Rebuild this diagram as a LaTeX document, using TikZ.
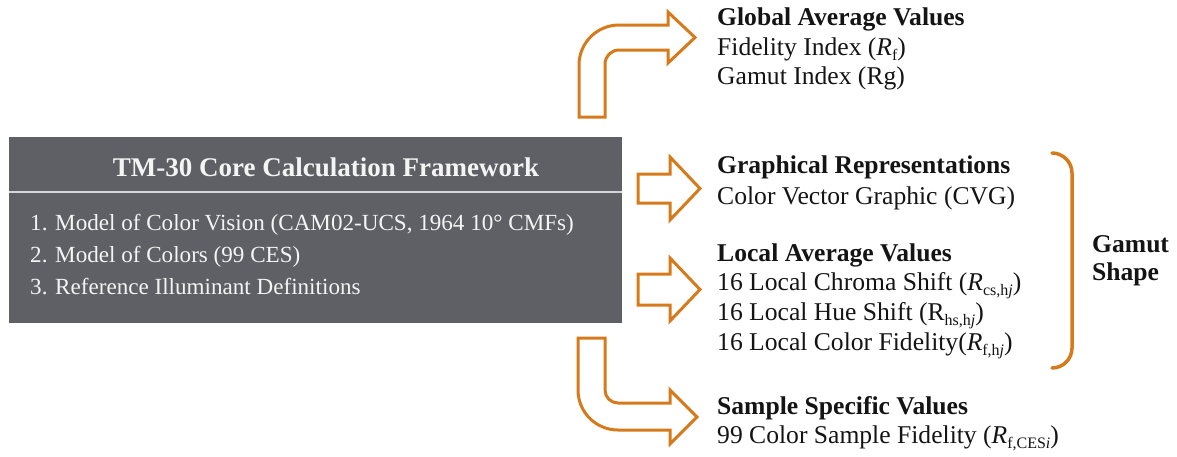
\documentclass[tikz,border=0pt]{standalone}
\usepackage{fontspec}
\setmainfont{Liberation Serif}
\definecolor{arrowor}{RGB}{214,122,28}
\definecolor{corebox}{RGB}{95,96,101}
\definecolor{divline}{RGB}{215,215,218}
\definecolor{boxtext}{RGB}{244,244,244}
\definecolor{ink}{RGB}{20,20,20}
% lowered index set in a smaller size
\newcommand\lsub[1]{\raisebox{-0.2em}{\fontsize{16}{16}\selectfont #1}}
\tikzset{
  blockarrow/.style={draw=arrowor, line width=3pt, fill=white, line join=miter},
  headtxt/.style={anchor=base west, inner sep=0pt, text=ink, font=\fontsize{25.6}{30}\selectfont\bfseries},
  bodytxt/.style={anchor=base west, inner sep=0pt, text=ink, font=\fontsize{25.6}{30}\selectfont},
  itemtxt/.style={anchor=base west, inner sep=0pt, text=boxtext, font=\fontsize{23.1}{28}\selectfont},
}
\begin{document}
\begin{tikzpicture}[x=1pt, y=-1pt]
\useasboundingbox (0,0) rectangle (1177,456);

% core calculation box
\fill[corebox] (9,137) rectangle (622,323);
\draw[divline, line width=2pt] (9,192) -- (622,192);
\node[anchor=base, inner sep=0pt, text=boxtext, font=\fontsize{27}{32}\selectfont\bfseries] (title) at (326,176) {TM-30 Core Calculation Framework};
\node[itemtxt] (it1) at (30,230) {1. Model of Color Vision (CAM02-UCS, 1964 10° CMFs)};
\node[itemtxt] (it2) at (30,262) {2. Model of Colors (99 CES)};
\node[itemtxt] (it3) at (30,294) {3. Reference Illuminant Definitions};

% bent arrow up and right
\draw[blockarrow] (579,117) -- (579,65) .. controls (579,42.9) and (596.9,25) .. (619,25)
  -- (668,25) -- (668,12) -- (695,37.5) -- (668,63) -- (668,50) -- (619,50)
  .. controls (611.3,50) and (605,56.3) .. (605,64) -- (605,117) -- cycle;

% straight arrows
\draw[blockarrow] (638,174) -- (670,174) -- (670,157) -- (700,188.5) -- (670,220) -- (670,203) -- (638,203) -- cycle;
\draw[blockarrow] (638,274) -- (670,274) -- (670,258) -- (700,289.5) -- (670,321) -- (670,305) -- (638,305) -- cycle;

% bent arrow down and right
\draw[blockarrow] (578,338) -- (578,390) .. controls (578,412.1) and (595.9,430) .. (618,430)
  -- (670,430) -- (670,444) -- (697,417) -- (670,390) -- (670,403) -- (618,403)
  .. controls (610.8,403) and (605,397.2) .. (605,390) -- (605,338) -- cycle;

% result groups
\node[headtxt] (glob) at (717,25) {Global Average Values};
\node[bodytxt] (rf) at (717,55) {Fidelity Index (\textit{R}\lsub{f})};
\node[bodytxt] (rg) at (717,84) {Gamut Index (Rg)};

\node[headtxt] (graph) at (717,173) {Graphical Representations};
\node[bodytxt] (cvg) at (717,204) {Color Vector Graphic (CVG)};

\node[headtxt] (local) at (717,261) {Local Average Values};
\node[bodytxt] (rcs) at (717,290) {16 Local Chroma Shift (\textit{R}\lsub{cs,h\textit{j}})};
\node[bodytxt] (rhs) at (717,320) {16 Local Hue Shift (R\lsub{hs,h\textit{j}})};
\node[bodytxt] (rfh) at (717,350) {16 Local Color Fidelity(\textit{R}\lsub{f,h\textit{j}})};

\node[headtxt] (sample) at (717,414) {Sample Specific Values};
\node[bodytxt] (rces) at (717,443) {99 Color Sample Fidelity (\textit{R}\lsub{f,CES\textit{i}})};

% gamut shape bracket
\draw[arrowor, line width=3.5pt, line cap=round] (1052,153) .. controls (1063,153) and (1072,162) .. (1072,173)
  -- (1072,348) .. controls (1072,359) and (1063,368) .. (1052,368);
\node[headtxt] (gam1) at (1092,252) {Gamut};
\node[headtxt] (gam2) at (1092,280) {Shape};
\end{tikzpicture}
\end{document}
